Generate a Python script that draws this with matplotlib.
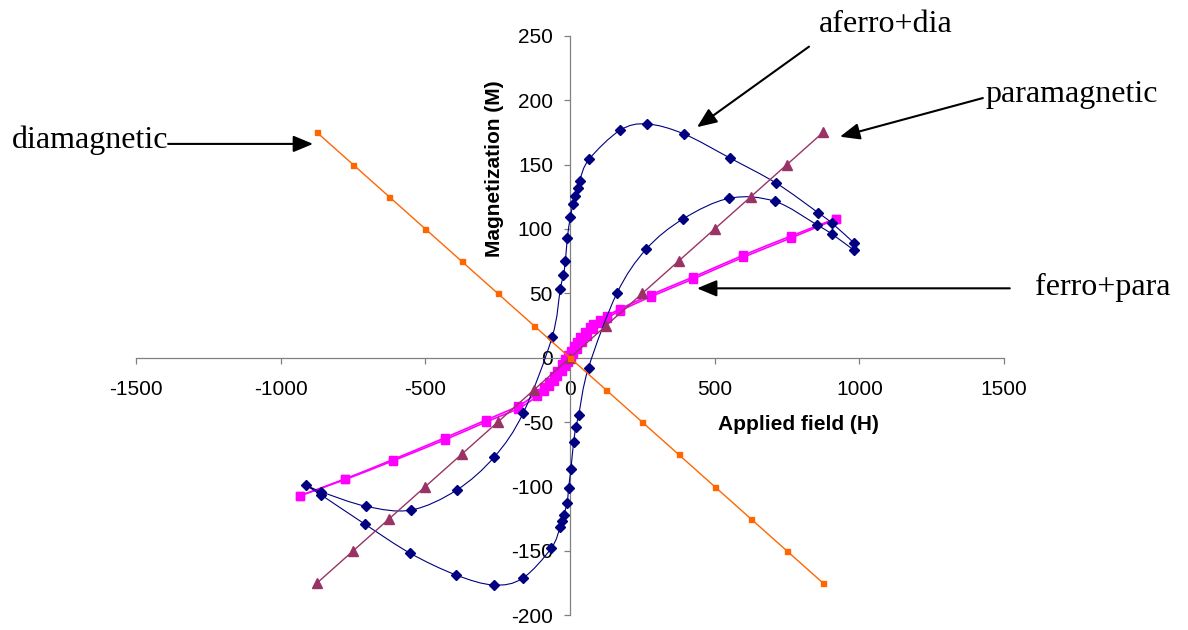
import numpy as np
import matplotlib
matplotlib.use("Agg")
import matplotlib.pyplot as plt
from matplotlib.path import Path
from matplotlib.patches import PathPatch

plt.rcParams["font.family"] = ["Liberation Sans", "DejaVu Sans"]
plt.rcParams["axes.unicode_minus"] = False

# ---- magnetization curves M(H) ----
dia_H = [-875, -750, -625, -500, -375, -250, -125, 0, 125, 250, 375, 500, 625, 750, 875]
dia_M = [175, 150, 125, 100, 75, 50, 25, 0, -25, -50, -75, -100, -125, -150, -175]

para_H = [-875, -750, -625, -500, -375, -250, -125, 0, 125, 250, 375, 500, 625, 750, 875]
para_M = [-175, -150, -125, -100, -75, -50, -25, 0, 25, 50, 75, 100, 125, 150, 175]

# ferro+para: rising branch then falling branch
ferro_up_H = [-932, -777, -612, -431, -292, -180, -114, -91, -74, -57, -45, -28, -16, -6,
              3, 11, 24, 41, 59, 81, 105, 128, 174, 280, 424, 598, 764, 918]
ferro_up_M = [-107, -94.5, -80, -63.5, -50, -39.5, -30, -26, -22, -18, -14.5, -10, -6.5, -3.5,
              -0.5, 3, 7, 12, 17, 22.5, 27, 31, 36.5, 47.5, 61, 78, 93, 107.5]
ferro_down_H = [918, 764, 598, 424, 280, 174, 128, 105, 81, 68, 53, 36, 24, 12.5,
                3, -6, -16, -28, -45, -57, -74, -91, -114, -180, -292, -431, -612, -777, -932]
ferro_down_M = [108, 94.5, 79.5, 62.5, 49, 38, 32.5, 29.3, 26, 23.7, 20, 16, 12.5, 9,
                5.5, 2.5, -1, -5, -10, -14, -18.5, -22.5, -27.5, -37.5, -48.5, -62, -79, -94, -107]

# aferro+dia: full loop, starting at the high-field end
aferro_H = [980, 906, 857, 713, 554, 393, 266, 173, 66, 33, 26, 19, 11, 1, -9, -16, -23,
            -33.5, -62, -162, -261, -391, -549, -705, -860, -913, -860, -710, -552, -394,
            -264, -164, -65, -33.5, -27.6, -22, -10, -5, 3, 12.5, 20.7, 30, 64, 162, 263,
            391, 551, 707, 854, 906, 980]
aferro_M = [89.4, 104.4, 112.7, 135.5, 154.9, 173.8, 181.5, 176.6, 154.1, 137.5, 131.7,
            125.6, 119.4, 109, 93.3, 75, 64, 53.3, 15.9, -43, -76.8, -102.6, -118.2,
            -115.3, -104, -98.8, -106.5, -129, -151.8, -168.6, -176.4, -171.2, -147.9,
            -131.1, -126.7, -122, -113, -101.3, -86.6, -65.6, -53.5, -44.4, -7.7, 50,
            84.2, 107.8, 123.8, 121.5, 103.1, 95.9, 83.7]

x_ticks = [-1500, -1000, -500, 0, 500, 1000, 1500]
y_ticks = [-200, -150, -100, -50, 0, 50, 100, 150, 200, 250]

NAVY = "#000080"
MAGENTA = "#FF00FF"
ORANGE = "#FF6600"
PLUM = "#993366"


def smooth_path(xs, ys):
    """Cubic Bezier path through the points (spreadsheet-style smoothed line)."""
    pts = np.column_stack([xs, ys]).astype(float)
    n = len(pts)
    verts = [pts[0]]
    codes = [Path.MOVETO]
    for i in range(n - 1):
        p0 = pts[i - 1] if i > 0 else pts[i]
        p1 = pts[i]
        p2 = pts[i + 1]
        p3 = pts[i + 2] if i + 2 < n else pts[i + 1]
        verts += [p1 + (p2 - p0) / 6.0, p2 - (p3 - p1) / 6.0, p2]
        codes += [Path.CURVE4] * 3
    return Path(verts, codes)


W, H = 1188, 630
fig = plt.figure(figsize=(W / 100, H / 100), dpi=100)
ax = fig.add_axes([136 / W, 14.6 / H, 868 / W, 579.7 / H])
ax.set_xlim(-1500, 1500)
ax.set_ylim(-200, 250)

# ferro+para (two nearly coincident branches)
for hx, my in ((ferro_up_H, ferro_up_M), (ferro_down_H, ferro_down_M)):
    ax.add_patch(PathPatch(smooth_path(hx, my), fill=False, edgecolor=MAGENTA, lw=1.2, zorder=3))
    ax.plot(hx, my, ls="none", marker="s", ms=5.2, color=MAGENTA, mec=MAGENTA, zorder=3)

# aferro+dia loop
ax.add_patch(PathPatch(smooth_path(aferro_H, aferro_M), fill=False, edgecolor=NAVY, lw=0.8, zorder=4))
ax.plot(aferro_H, aferro_M, ls="none", marker="D", ms=4.9, color=NAVY, mec=NAVY, zorder=4)

# paramagnetic
ax.plot(para_H, para_M, "-", lw=1.0, color=PLUM, marker="^", ms=7.2, mec=PLUM, zorder=5)

# diamagnetic
ax.plot(dia_H, dia_M, "-", lw=1.0, color=ORANGE, marker="s", ms=3.6, mec=ORANGE, zorder=6)

# axes through the origin
for side in ("top", "right"):
    ax.spines[side].set_visible(False)
for side in ("left", "bottom"):
    ax.spines[side].set_position(("data", 0))
    ax.spines[side].set_color("#808080")
    ax.spines[side].set_linewidth(0.9)
ax.set_xticks(x_ticks)
ax.set_yticks(y_ticks)
ax.tick_params(axis="both", direction="out", length=4.3, width=0.9, color="#808080",
               labelsize=15, labelcolor="black")
ax.tick_params(axis="x", pad=12)
ax.tick_params(axis="y", pad=8)
ax.patch.set_visible(False)

fig.text(494 / W, 1 - 169 / H, "Magnetization (M)", rotation=90, ha="center", va="center",
         fontsize=15, fontweight="bold")
fig.text(798 / W, 1 - 425 / H, "Applied field (H)", ha="center", va="center",
         fontsize=15, fontweight="bold")

# callouts
serif = ["Liberation Serif", "DejaVu Serif"]
labels = [("diamagnetic", 12, 148), ("aferro+dia", 819, 32),
          ("paramagnetic", 985, 102), ("ferro+para", 1035, 295)]
for txt, px, py in labels:
    fig.text(px / W, 1 - py / H, txt, ha="left", va="baseline", fontsize=23, family=serif)

arrows = [((-1389, 166), (-888, 166)),
          ((826, 241.5), (439, 179)),
          ((1427, 201.6), (933, 171.6)),
          ((1520, 53.9), (439, 53.9))]
for start, tip in arrows:
    ax.annotate("", xy=tip, xytext=start, xycoords="data", textcoords="data",
                annotation_clip=False,
                arrowprops=dict(arrowstyle="-|>,head_length=1.2,head_width=0.5",
                                mutation_scale=10, color="black", lw=1.5,
                                shrinkA=0, shrinkB=0))

fig.savefig("out.png", dpi=100)
